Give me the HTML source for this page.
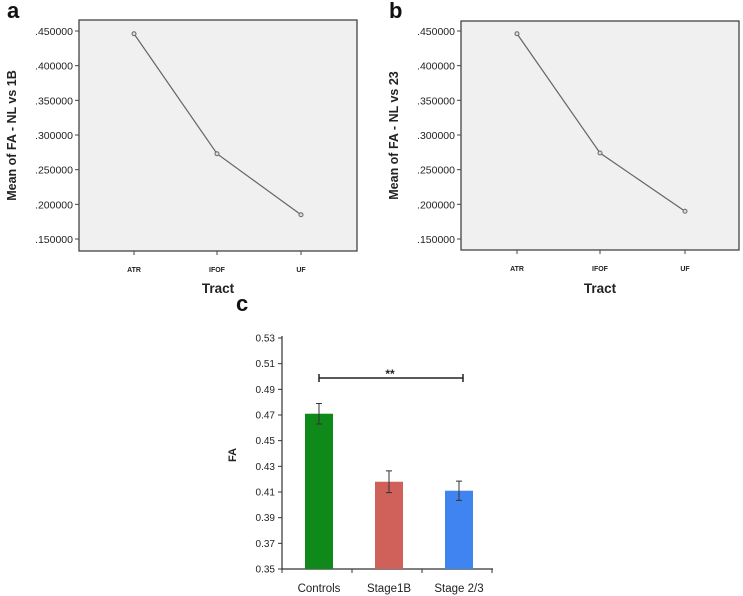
<!DOCTYPE html>
<html><head><meta charset="utf-8"><style>
html,body{margin:0;padding:0;background:#fff;width:743px;height:596px;overflow:hidden}
svg{display:block;font-family:"Liberation Sans",sans-serif}
</style></head><body>
<svg id="s" width="743" height="596"></svg>
<script>
const lineCats=["ATR","IFOF","UF"];
const valsA=[0.446,0.273,0.185];
const valsB=[0.446,0.274,0.190];
const lineTicks=[0.15,0.20,0.25,0.30,0.35,0.40,0.45];
const lineTickLabels=[".150000",".200000",".250000",".300000",".350000",".400000",".450000"];
const barCats=["Controls","Stage1B","Stage 2/3"];
const barVals=[0.471,0.418,0.411];
const barErr=[0.008,0.0085,0.0075];
const barTicks=[0.35,0.37,0.39,0.41,0.43,0.45,0.47,0.49,0.51,0.53];
const barTickLabels=["0.35","0.37","0.39","0.41","0.43","0.45","0.47","0.49","0.51","0.53"];
const barColors=["#0f8a1a","#d0605a","#3f84f0"];
const NS="http://www.w3.org/2000/svg";
const svg=document.getElementById('s');
function mk(t,a,p,txt){const e=document.createElementNS(NS,t);for(const k in a)e.setAttribute(k,a[k]);if(txt!==undefined)e.textContent=txt;(p||svg).appendChild(e);return e;}

function linePanel(L,R,T,B,xs,vals,letter,ytitle,name){
  const g=mk('g',{});
  
  
  const yy=v=>239-(v-0.15)/0.30*208;
  const lab=mk('text',{x:L-72,y:18,'font-size':22,'font-weight':'bold',fill:'#111'},g,letter);
  
  const box=mk('rect',{x:L,y:T,width:R-L,height:B-T,fill:'#f0f0f0',stroke:'#444','stroke-width':1.3},g);
  
  lineTicks.forEach((t,i)=>{const py=yy(t);
    mk('line',{x1:L-4,x2:L,y1:py,y2:py,stroke:'#444'},g);
    const tl=mk('text',{x:L-6,y:py+4,'font-size':10.5,'text-anchor':'end',fill:'#222'},g,lineTickLabels[i]);
    });
  lineCats.forEach((c,i)=>{mk('line',{x1:xs[i],x2:xs[i],y1:B,y2:B+4,stroke:'#444'},g);
    const tl=mk('text',{x:xs[i],y:B+21,'font-size':7,'font-weight':'bold','text-anchor':'middle',fill:'#222'},g,c);
    });
  const pts=vals.map((v,i)=>xs[i]+','+yy(v)).join(' ');
  const pl=mk('polyline',{points:pts,fill:'none',stroke:'#666','stroke-width':1.2},g);
  
  vals.forEach((v,i)=>{const c=mk('circle',{cx:xs[i],cy:yy(v),r:2,fill:'#ddd',stroke:'#666'},g);
    });
  const xt=mk('text',{x:(L+R)/2,y:293,'font-size':13.5,'font-weight':'bold','text-anchor':'middle',fill:'#222'},g,'Tract');
  
  const yt=mk('text',{x:0,y:0,'font-size':12.5,'font-weight':'bold','text-anchor':'middle',fill:'#222',transform:`translate(${L-63},${(T+B)/2}) rotate(-90)`},g,ytitle);
  
}
linePanel(79,357,20,251,[134,217,301],valsA,'a','Mean of FA - NL vs 1B','panel-a');
linePanel(461,739,21,250,[517,600,685],valsB,'b','Mean of FA - NL vs 23','panel-b');

const gc=mk('g',{});


const AX=282,Y0=569,Y1=338,AR=493;
const yc=v=>Y0-(v-0.35)/(0.53-0.35)*(Y0-Y1);
const xc=i=>319+i*70;
const lc=mk('text',{x:236,y:311,'font-size':22,'font-weight':'bold',fill:'#111'},gc,'c');

mk('line',{x1:AX,x2:AX,y1:Y1-2,y2:Y0,stroke:'#333','stroke-width':1.2},gc);
mk('line',{x1:AX,x2:AR,y1:Y0,y2:Y0,stroke:'#333','stroke-width':1.2},gc);
barTicks.forEach((t,i)=>{const py=yc(t);
  mk('line',{x1:AX-4,x2:AX,y1:py,y2:py,stroke:'#333'},gc);
  const tl=mk('text',{x:AX-7,y:py+3.5,'font-size':10,'text-anchor':'end',fill:'#222'},gc,barTickLabels[i]);
  });
[0,1,2,3].forEach(i=>{const px=AX+i*70;mk('line',{x1:px,x2:px,y1:Y0,y2:Y0+4,stroke:'#333'},gc);});
barCats.forEach((c,i)=>{
  const b=mk('rect',{x:xc(i)-14,y:yc(barVals[i]),width:28,height:Y0-yc(barVals[i]),fill:barColors[i]},gc);
  
  const t=yc(barVals[i]+barErr[i]),bt=yc(barVals[i]-barErr[i]);
  const e=mk('path',{d:`M${xc(i)},${t}V${bt}M${xc(i)-3},${t}H${xc(i)+3}M${xc(i)-3},${bt}H${xc(i)+3}`,stroke:'#333','stroke-width':1,fill:'none'},gc);
  
  const tl=mk('text',{x:xc(i),y:592,'font-size':11.5,'text-anchor':'middle',fill:'#222'},gc,c);
  });
const sig=mk('path',{d:`M${xc(0)},378H463M${xc(0)},374V382M463,374V382`,stroke:'#222','stroke-width':1.5,fill:'none'},gc);

const st=mk('text',{x:390,y:378,'font-size':12,'font-weight':'bold','text-anchor':'middle',fill:'#222'},gc,'**');

const fa=mk('text',{x:0,y:0,'font-size':11,'font-weight':'bold','text-anchor':'middle',fill:'#222',transform:'translate(236,455) rotate(-90)'},gc,'FA');

</script>
</body></html>
